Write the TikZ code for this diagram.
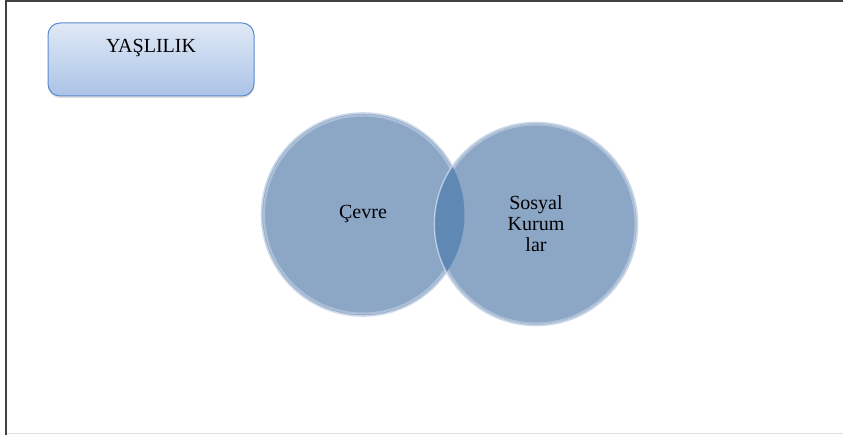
\documentclass[tikz,border=0pt]{standalone}
\usepackage{fontspec}
\setmainfont{Liberation Serif}
\usetikzlibrary{shadows}
\definecolor{boxtop}{HTML}{E0E9F6}
\definecolor{boxbot}{HTML}{ABC3E6}
\definecolor{boxline}{HTML}{5B8BCF}
\definecolor{circfill}{HTML}{8CA6C6}
\definecolor{circrim}{HTML}{C9D7E8}
\definecolor{overlap}{HTML}{6088B5}
\definecolor{frameline}{HTML}{404040}
\tikzset{
  titlebox/.style={draw=boxline, line width=1pt, rounded corners=12pt,
    top color=boxtop, bottom color=boxbot, minimum width=206pt, minimum height=73pt,
    drop shadow={opacity=0.25, shadow xshift=0pt, shadow yshift=-2pt}},
  bubble/.style={circle, fill=circfill, draw=circrim, line width=1.6pt,
    minimum size=203pt, inner sep=0pt, align=center,
    font=\fontsize{20}{21}\selectfont},
  rim/.style={draw=white, opacity=0.3, line width=2pt},
  label/.style={font=\fontsize{20}{24}\selectfont, inner sep=0pt}
}
\begin{document}
\begin{tikzpicture}[x=1pt,y=-1pt]
\useasboundingbox (0,0) rectangle (843,435);
\fill[white] (0,0) rectangle (843,435);
% frame
\draw[frameline, line width=2pt] (6,435) -- (6,1.5) -- (843,1.5);
\draw[black!12, line width=1.2pt] (7,433.5) -- (843,433.5);
% title box
\node[titlebox] (yas) at (151,59.5) {};
\node[label, anchor=center] (yastext) at ([yshift=11pt]yas.center) {YAŞLILIK};
% circles
\node[bubble] (cevre) at (363,214.5) {Çevre};
\node[bubble] (sosyal) at (536,224) {Sosyal\\Kurum\\lar};
% glassy rims
\draw[rim] (cevre.center) circle (99pt);
\draw[rim] (sosyal.center) circle (99.5pt);
% overlap
\begin{scope}
  \clip (cevre.center) circle (101.5pt);
  \fill[overlap] (sosyal.center) circle (101.5pt);
\end{scope}
\begin{scope}
  \clip (cevre.center) circle (101.5pt);
  \draw[circrim, line width=1.2pt, opacity=0.6] (sosyal.center) circle (101.5pt);
\end{scope}
\end{tikzpicture}
\end{document}
